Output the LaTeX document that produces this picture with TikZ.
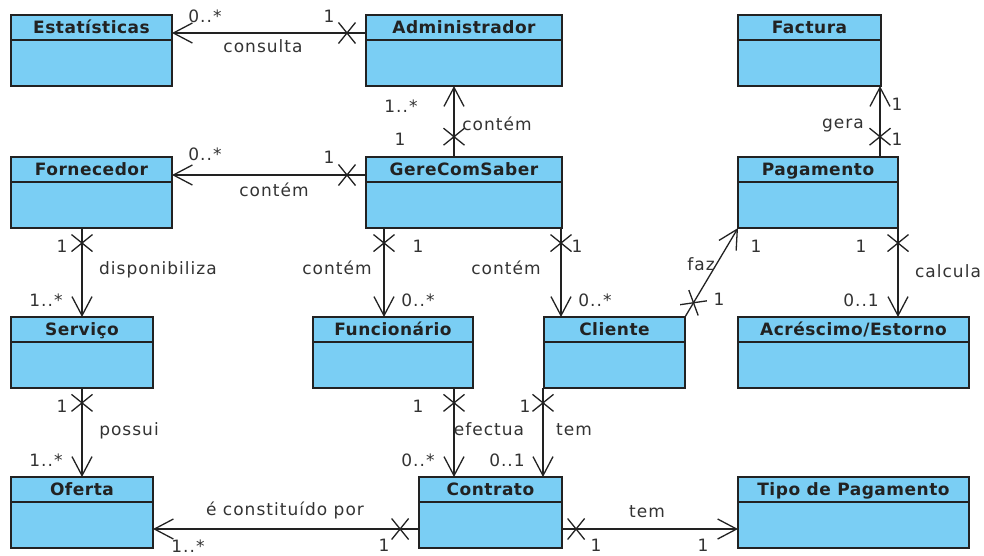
\documentclass[tikz,border=0pt]{standalone}
\usepackage{fontspec}
\setmainfont{DejaVu Sans}
\newfontfamily\lblfont[LetterSpace=6]{DejaVu Sans}
\newfontfamily\hdrfont[LetterSpace=3]{DejaVu Sans}
\usetikzlibrary{arrows.meta,shapes.misc,calc}
\definecolor{boxfill}{RGB}{122,206,244}
\definecolor{ink}{RGB}{34,34,34}
\definecolor{lbl}{RGB}{51,51,51}
\tikzset{
  cls/.style={draw=ink, fill=boxfill, line width=1.4pt, rectangle, inner sep=0pt, outer sep=0pt, anchor=north west, minimum height=71pt},
  hdr/.style={font=\hdrfont\bfseries\fontsize{17pt}{20pt}\selectfont, text=ink, anchor=base, inner sep=0pt},
  lbl/.style={font=\lblfont\fontsize{17pt}{20pt}\selectfont, text=lbl, anchor=base, inner sep=0pt},
  assoc/.style={draw=ink, line width=1.3pt, -{Straight Barb[length=19pt,width=20pt]}},
  xmk/.style={cross out, draw=ink, line width=1.3pt, sloped, minimum width=17pt, minimum height=21pt, inner sep=0pt, outer sep=0pt, anchor=center},
}
\newcommand\umlbox[5]{%
  \node[cls, minimum width=#4pt] (#1) at (#2,#3) {};
  \draw[ink, line width=1.4pt] ([yshift=-25pt]#1.north west) -- ([yshift=-25pt]#1.north east);
  \node[hdr] (#1-t) at ([yshift=-18.5pt]#1.north) {#5};
}
\begin{document}
\begin{tikzpicture}[x=1pt,y=-1pt]
\fill[white] (0,0) rectangle (984,555);
\useasboundingbox (0,0) rectangle (984,555);

\umlbox{est}{11}{15}{161}{Estatísticas}
\umlbox{adm}{366}{15}{196}{Administrador}
\umlbox{fac}{738}{15}{143}{Factura}
\umlbox{forn}{11}{157}{161}{Fornecedor}
\umlbox{gcs}{366}{157}{196}{GereComSaber}
\umlbox{pag}{738}{157}{160}{Pagamento}
\umlbox{serv}{11}{317}{142}{Serviço}
\umlbox{func}{313}{317}{160}{Funcionário}
\umlbox{cli}{544}{317}{141}{Cliente}
\umlbox{acr}{738}{317}{231}{Acréscimo/Estorno}
\umlbox{ofe}{11}{477}{142}{Oferta}
\umlbox{con}{419}{477}{143}{Contrato}
\umlbox{tipo}{738}{477}{231}{Tipo de Pagamento}

\draw[assoc] ([yshift=-18pt]adm.north west) -- ([yshift=-18pt]est.north east) node[xmk,pos=.098]{};
\draw[assoc] ([xshift=88pt]gcs.north west) -- ([xshift=88pt]adm.south west) node[xmk,pos=.286]{};
\draw[assoc] ([xshift=142pt]pag.north west) -- ([xshift=142pt]fac.south west) node[xmk,pos=.286]{};
\draw[assoc] ([yshift=-18pt]gcs.north west) -- ([yshift=-18pt]forn.north east) node[xmk,pos=.098]{};
\draw[assoc] ([xshift=71pt]forn.south west) -- ([xshift=71pt]serv.north west) node[xmk,pos=.169]{};
\draw[assoc] ([xshift=18pt]gcs.south west) -- ([xshift=71pt]func.north west) node[xmk,pos=.169]{};
\draw[assoc] ([xshift=-1pt]gcs.south east) -- ([xshift=17pt]cli.north west) node[xmk,pos=.169]{};
\draw[assoc] (cli.north east) -- (pag.south west) node[xmk,pos=.16]{};
\draw[assoc] (pag.south east) -- ([xshift=160pt]acr.north west) node[xmk,pos=.169]{};
\draw[assoc] ([xshift=71pt]serv.south west) -- ([xshift=71pt]ofe.north west) node[xmk,pos=.167]{};
\draw[assoc] ([xshift=141pt]func.south west) -- ([xshift=35pt]con.north west) node[xmk,pos=.167]{};
\draw[assoc] ([xshift=-1pt]cli.south west) -- ([xshift=124pt]con.north west) node[xmk,pos=.167]{};
\draw[assoc] ([yshift=-52pt]con.north west) -- ([yshift=-52pt]ofe.north east) node[xmk,pos=.071]{};
\draw[assoc] ([yshift=-52pt]con.north east) -- ([yshift=-52pt]tipo.north west) node[xmk,pos=.08]{};

% labels
\node[lbl] (m1) at (205,22) {0..*};
\node[lbl] (m2) at (329,22) {1};
\node[lbl] (a1) at (263,52) {consulta};
\node[lbl] (m3) at (401,112) {1..*};
\node[lbl] (m4) at (400,145) {1};
\node[lbl] (a2) at (497,130) {contém};
\node[lbl] (a3) at (843,128) {gera};
\node[lbl] (m5) at (897,110) {1};
\node[lbl] (m6) at (897,145) {1};
\node[lbl] (m7) at (205,160) {0..*};
\node[lbl] (m8) at (329,163) {1};
\node[lbl] (a4) at (274,196) {contém};
\node[lbl] (m9) at (62,252) {1};
\node[lbl] (a5) at (158,274) {disponibiliza};
\node[lbl] (m10) at (46,306) {1..*};
\node[lbl] (m11) at (418,252) {1};
\node[lbl] (a6) at (337,274) {contém};
\node[lbl] (m12) at (418,306) {0..*};
\node[lbl] (m13) at (577,252) {1};
\node[lbl] (a7) at (506,274) {contém};
\node[lbl] (m14) at (595,306) {0..*};
\node[lbl] (a8) at (701,270) {faz};
\node[lbl] (m15) at (756,252) {1};
\node[lbl] (m16) at (719,305) {1};
\node[lbl] (m17) at (861,252) {1};
\node[lbl] (a9) at (948,277) {calcula};
\node[lbl] (m18) at (861,306) {0..1};
\node[lbl] (m19) at (62,412) {1};
\node[lbl] (a10) at (129,435) {possui};
\node[lbl] (m20) at (46,466) {1..*};
\node[lbl] (m21) at (418,412) {1};
\node[lbl] (a11) at (489,435) {efectua};
\node[lbl] (m22) at (418,466) {0..*};
\node[lbl] (m23) at (525,412) {1};
\node[lbl] (a12) at (574,435) {tem};
\node[lbl] (m24) at (507,466) {0..1};
\node[lbl] (a13) at (285,515) {é constituído por};
\node[lbl] (m25) at (188,552) {1..*};
\node[lbl] (m26) at (384,551) {1};
\node[lbl] (a14) at (647,517) {tem};
\node[lbl] (m27) at (596,551) {1};
\node[lbl] (m28) at (703,551) {1};
\end{tikzpicture}
\end{document}
